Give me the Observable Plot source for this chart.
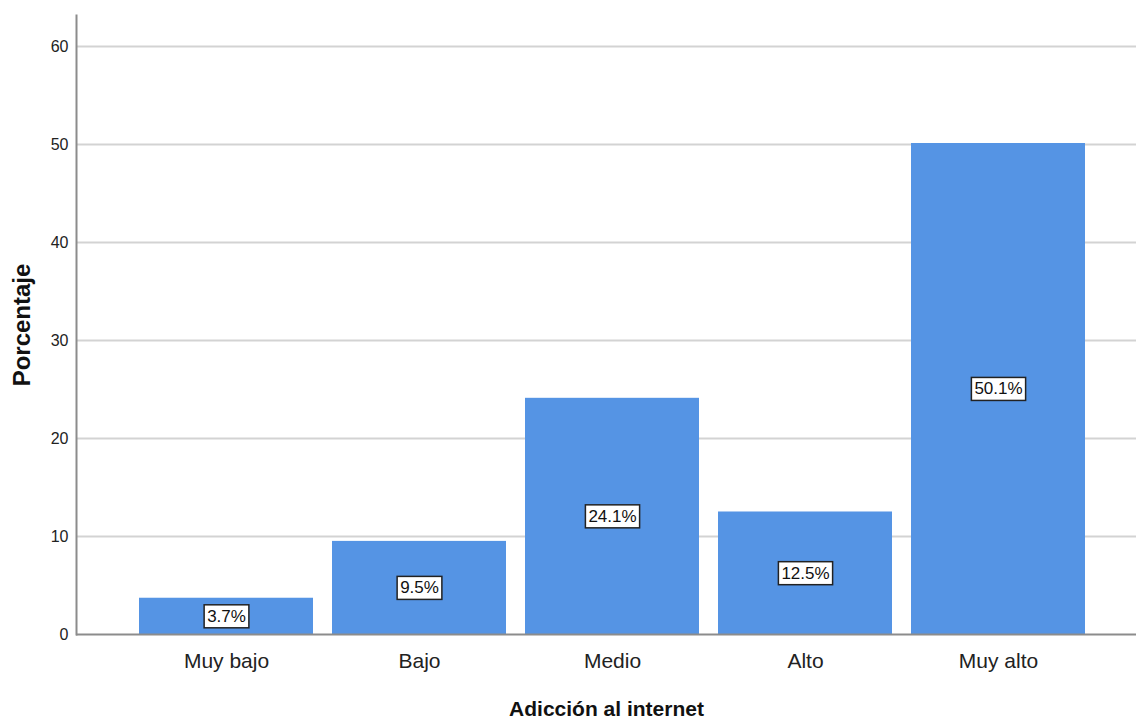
<!DOCTYPE html>
<html>
<head>
<meta charset="utf-8">
<script src="https://cdn.jsdelivr.net/npm/d3@7"></script>
<script src="https://cdn.jsdelivr.net/npm/@observablehq/plot@0.6"></script>
<style>
  html, body { margin: 0; padding: 0; background: #fff; }
  #chart svg { display: block; }
</style>
</head>
<body>
<div id="chart"></div>
<script>
const categories = ["Muy bajo", "Bajo", "Medio", "Alto", "Muy alto"];
const percentages = [3.7, 9.5, 24.1, 12.5, 50.1];
const yTicks = [0, 10, 20, 30, 40, 50, 60];
const xTitle = "Adicción al internet";
const yTitle = "Porcentaje";

const rows = categories.map((c, i) => ({category: c, value: percentages[i], label: percentages[i].toFixed(1) + "%"}));

const plot = Plot.plot({
  width: 1136,
  height: 720,
  marginLeft: 76,
  marginRight: 0,
  marginTop: 15,
  marginBottom: 86,
  style: {fontFamily: "'Liberation Sans', Arial, sans-serif", background: "#fff", color: "#222"},
  x: {domain: categories, range: [129.5, 1094.5], paddingInner: 0.1, paddingOuter: 0.05, label: null},
  y: {domain: [0, 63.16], label: null},
  marks: [
    Plot.gridY(yTicks.filter(d => d > 0), {stroke: "#d3d3d3", strokeOpacity: 1, strokeWidth: 2}),
    Plot.barY(rows, {x: "category", y: "value", fill: "#5594e4"}),
    Plot.ruleY([0], {stroke: "#8c8c8c", strokeWidth: 2}),
    Plot.frame({anchor: "left", stroke: "#8c8c8c", strokeWidth: 2}),
    Plot.axisY(yTicks, {tickSize: 0, tickPadding: 8, fontSize: 16, fill: "#222"}),
    Plot.axisX({tickSize: 0, tickPadding: 19, fontSize: 21, fill: "#222", label: null}),
    Plot.text(rows, {x: "category", y: d => d.value / 2, text: "label", fontSize: 17, fill: "#111"}),
    Plot.text([xTitle], {frameAnchor: "bottom", dy: 81, fontSize: 21, fontWeight: "bold", fill: "#111"}),
    Plot.text([yTitle], {frameAnchor: "left", dx: -54, rotate: -90, textAnchor: "middle", fontSize: 24, fontWeight: "bold", fill: "#111"})
  ]
});
document.getElementById("chart").appendChild(plot);

// white boxes with black border behind the bar labels
const svgNS = "http://www.w3.org/2000/svg";
Array.from(plot.querySelectorAll("text")).filter(t => /%$/.test(t.textContent.trim())).forEach(t => {
  const b = t.getBBox();
  const r = document.createElementNS(svgNS, "rect");
  r.setAttribute("x", b.x - 3);
  r.setAttribute("y", b.y - 2);
  r.setAttribute("width", b.width + 6);
  r.setAttribute("height", b.height + 4);
  r.setAttribute("fill", "#fff");
  r.setAttribute("stroke", "#222");
  r.setAttribute("stroke-width", 1.5);
  const tr = t.getAttribute("transform");
  if (tr) r.setAttribute("transform", tr);
  t.parentNode.insertBefore(r, t);
});
</script>
</body>
</html>
